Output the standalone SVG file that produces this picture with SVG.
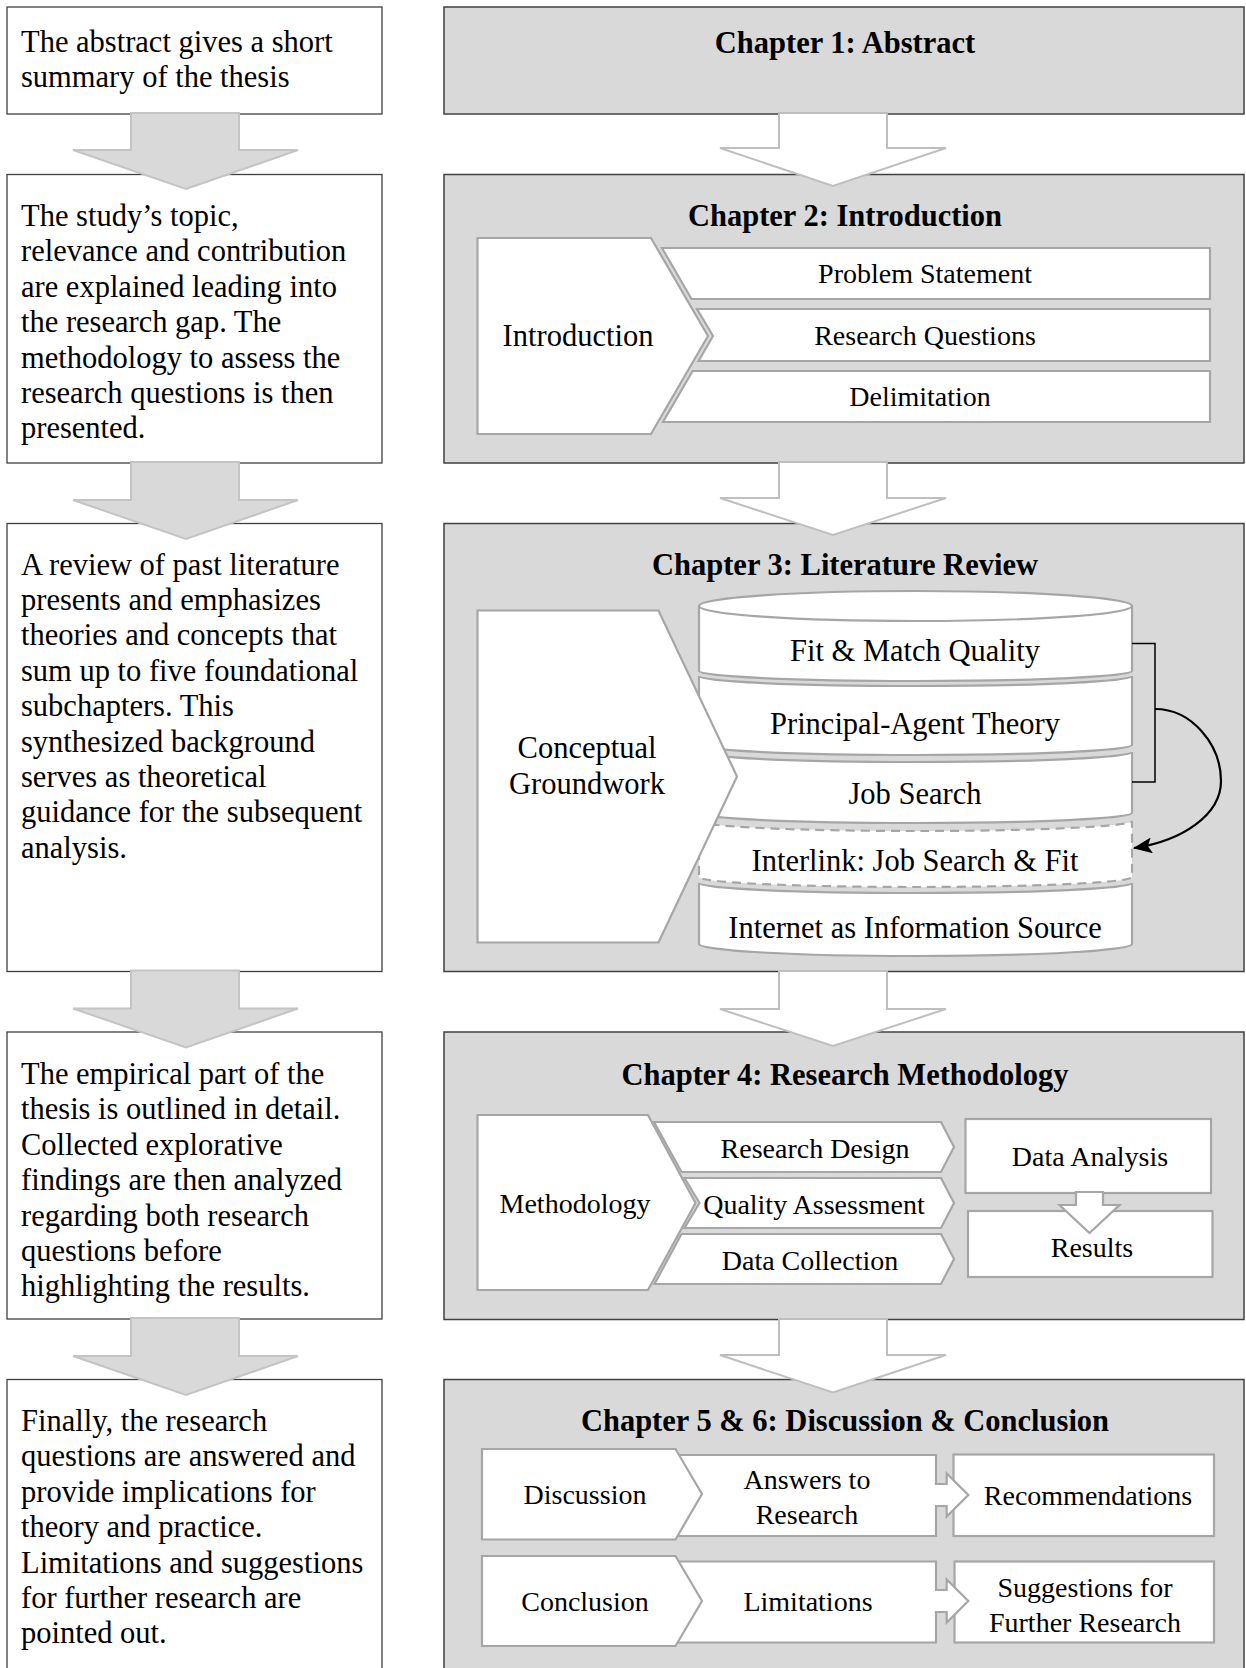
<svg xmlns="http://www.w3.org/2000/svg" width="1246" height="1668" viewBox="0 0 1246 1668">
<style>
.bg{fill:#ffffff}
.lbox{fill:#ffffff;stroke:#404040;stroke-width:1.3}
.cbox{fill:#d9d9d9;stroke:#404040;stroke-width:1.5}
.inner{fill:#ffffff;stroke:#a6a6a6;stroke-width:2.2;stroke-linejoin:miter}
.dash{fill:#ffffff;stroke:#a6a6a6;stroke-width:2.2;stroke-dasharray:9 6}
.larrow{fill:#d9d9d9;stroke:#c4c4c4;stroke-width:2}
.rarrow{fill:#ffffff;stroke:#bfbfbf;stroke-width:2}
.link{fill:none;stroke:#000000;stroke-width:1.5}
.curve{fill:none;stroke:#000000;stroke-width:2.2}
.body{font-family:"Liberation Serif","Times New Roman",serif;font-size:30.5px;fill:#000}
.title{font-family:"Liberation Serif","Times New Roman",serif;font-size:30.5px;font-weight:bold;fill:#000;text-anchor:middle}
.lab{font-family:"Liberation Serif","Times New Roman",serif;font-size:28px;fill:#000;text-anchor:middle}
.lab30{font-family:"Liberation Serif","Times New Roman",serif;font-size:30.5px;fill:#000;text-anchor:middle}
</style>
<defs>
<marker id="ah" markerUnits="userSpaceOnUse" markerWidth="19" markerHeight="16" viewBox="0 0 19 16" refX="18" refY="8" orient="auto">
<path d="M0,0 L19,8 L0,16 L4,8 Z" fill="#000"/>
</marker>
</defs>
<rect class="bg" x="0" y="0" width="1246" height="1668"/>

<!-- Left column description boxes -->
<g id="desc1">
<rect class="lbox" x="7" y="7" width="375" height="107"/>
<text class="body" x="21" y="52">The abstract gives a short<tspan x="21" dy="35.4">summary of the thesis</tspan></text>
</g>
<g id="desc2">
<rect class="lbox" x="7" y="174.5" width="375" height="288.5"/>
<text class="body" x="21" y="226">The study’s topic,<tspan x="21" dy="35.4">relevance and contribution</tspan><tspan x="21" dy="35.4">are explained leading into</tspan><tspan x="21" dy="35.4">the research gap. The</tspan><tspan x="21" dy="35.4">methodology to assess the</tspan><tspan x="21" dy="35.4">research questions is then</tspan><tspan x="21" dy="35.4">presented.</tspan></text>
</g>
<g id="desc3">
<rect class="lbox" x="7" y="523.5" width="375" height="448"/>
<text class="body" x="21" y="574.5">A review of past literature<tspan x="21" dy="35.4">presents and emphasizes</tspan><tspan x="21" dy="35.4">theories and concepts that</tspan><tspan x="21" dy="35.4">sum up to five foundational</tspan><tspan x="21" dy="35.4">subchapters. This</tspan><tspan x="21" dy="35.4">synthesized background</tspan><tspan x="21" dy="35.4">serves as theoretical</tspan><tspan x="21" dy="35.4">guidance for the subsequent</tspan><tspan x="21" dy="35.4">analysis.</tspan></text>
</g>
<g id="desc4">
<rect class="lbox" x="7" y="1032" width="375" height="287"/>
<text class="body" x="21" y="1084">The empirical part of the<tspan x="21" dy="35.4">thesis is outlined in detail.</tspan><tspan x="21" dy="35.4">Collected explorative</tspan><tspan x="21" dy="35.4">findings are then analyzed</tspan><tspan x="21" dy="35.4">regarding both research</tspan><tspan x="21" dy="35.4">questions before</tspan><tspan x="21" dy="35.4">highlighting the results.</tspan></text>
</g>
<g id="desc5">
<rect class="lbox" x="7" y="1379.5" width="375" height="300"/>
<text class="body" x="21" y="1431">Finally, the research<tspan x="21" dy="35.4">questions are answered and</tspan><tspan x="21" dy="35.4">provide implications for</tspan><tspan x="21" dy="35.4">theory and practice.</tspan><tspan x="21" dy="35.4">Limitations and suggestions</tspan><tspan x="21" dy="35.4">for further research are</tspan><tspan x="21" dy="35.4">pointed out.</tspan></text>
</g>

<!-- Chapter 1 -->
<g id="ch1">
<rect class="cbox" x="444" y="7" width="800" height="107"/>
<text class="title" x="845" y="53">Chapter 1: Abstract</text>
</g>

<!-- Chapter 2 -->
<g id="ch2">
<rect class="cbox" x="444" y="174.5" width="800" height="288.5"/>
<text class="title" x="845" y="226">Chapter 2: Introduction</text>
<g id="ch2-problem">
<polygon class="inner" points="662,248 1210,248 1210,299 691.5,299"/>
<text class="lab" x="925" y="283">Problem Statement</text>
</g>
<g id="ch2-questions">
<polygon class="inner" points="697,309 1210,309 1210,361 698.5,361 713,336"/>
<text class="lab" x="925" y="345">Research Questions</text>
</g>
<g id="ch2-delimitation">
<polygon class="inner" points="692.6,371 1210,371 1210,422 663,422"/>
<text class="lab" x="920" y="406">Delimitation</text>
</g>
<g id="ch2-intro">
<polygon class="inner" points="477.5,238 651,238 708,336 651,434 477.5,434"/>
<text class="lab30" x="578" y="346">Introduction</text>
</g>
</g>

<!-- Chapter 3 -->
<g id="ch3">
<rect class="cbox" x="444" y="523.5" width="800" height="448"/>
<text class="title" x="845" y="575">Chapter 3: Literature Review</text>
<g id="ch3-fit">
<path class="inner" d="M699,606 L699,671 A216.5,10 0 0 0 1132,671 L1132,606 A216.5,15 0 0 0 699,606 Z"/>
<path class="inner" fill="none" d="M699,606 A216.5,15 0 0 0 1132,606"/>
<text class="lab30" x="915" y="661">Fit &amp; Match Quality</text>
</g>
<g id="ch3-principal">
<path class="inner" d="M699,676 L699,745 A216.5,10 0 0 0 1132,745 L1132,676 A216.5,10 0 0 1 699,676 Z"/>
<text class="lab30" x="915" y="733.5">Principal-Agent Theory</text>
</g>
<g id="ch3-jobsearch">
<path class="inner" d="M699,752 L699,813 A216.5,10 0 0 0 1132,813 L1132,752 A216.5,10 0 0 1 699,752 Z"/>
<text class="lab30" x="915" y="804">Job Search</text>
</g>
<g id="ch3-interlink">
<path class="dash" d="M699,821 L699,877 A216.5,10 0 0 0 1132,877 L1132,821 A216.5,10 0 0 1 699,821 Z"/>
<text class="lab30" x="915" y="871">Interlink: Job Search &amp; Fit</text>
</g>
<g id="ch3-internet">
<path class="inner" d="M699,883 L699,944 A216.5,12 0 0 0 1132,944 L1132,883 A216.5,10 0 0 1 699,883 Z"/>
<text class="lab30" x="915" y="938">Internet as Information Source</text>
</g>
<g id="ch3-groundwork">
<polygon class="inner" points="477.5,610.5 658.5,610.5 737,776.5 658.5,942.5 477.5,942.5"/>
<text class="lab30" x="587" y="758">Conceptual<tspan x="587" dy="36">Groundwork</tspan></text>
</g>
</g>

<!-- Chapter 4 -->
<g id="ch4">
<rect class="cbox" x="444" y="1032" width="800" height="287.5"/>
<text class="title" x="845" y="1085">Chapter 4: Research Methodology</text>
<g id="ch4-design">
<polygon class="inner" points="654,1122 941,1122 954,1147 941,1172 681.5,1172"/>
<text class="lab" x="815" y="1158">Research Design</text>
</g>
<g id="ch4-quality">
<polygon class="inner" points="684.5,1178 941,1178 954,1203 941,1228 684.5,1228 699.5,1203"/>
<text class="lab" x="814" y="1214">Quality Assessment</text>
</g>
<g id="ch4-collection">
<polygon class="inner" points="681.5,1234 941,1234 954,1259 941,1284 654.5,1284"/>
<text class="lab" x="810" y="1270">Data Collection</text>
</g>
<g id="ch4-methodology">
<polygon class="inner" points="477.5,1115 648,1115 695.5,1203 648,1290 477.5,1290"/>
<text class="lab" x="575" y="1213">Methodology</text>
</g>
<g id="ch4-analysis">
<rect class="inner" x="965.5" y="1119" width="245.5" height="74"/>
<text class="lab" x="1090" y="1166">Data Analysis</text>
</g>
<g id="ch4-results">
<rect class="inner" x="968" y="1211" width="244.5" height="66"/>
<text class="lab" x="1092" y="1257">Results</text>
</g>
</g>

<!-- Chapter 5 & 6 -->
<g id="ch5">
<rect class="cbox" x="444" y="1379.5" width="800" height="300"/>
<text class="title" x="845" y="1431">Chapter 5 &amp; 6: Discussion &amp; Conclusion</text>
<g id="ch5-recommendations">
<rect class="inner" x="953.5" y="1454.5" width="260.5" height="81.5"/>
<text class="lab" x="1088" y="1505">Recommendations</text>
</g>
<g id="ch5-answers">
<polygon class="inner" points="660,1455 936,1455 936,1484 946.7,1484 946.7,1473.5 968.3,1495 946.7,1516.5 946.7,1506 936,1506 936,1536 660,1536"/>
<text class="lab" x="807" y="1489">Answers to<tspan x="807" dy="35">Research</tspan></text>
</g>
<g id="ch5-discussion">
<polygon class="inner" points="482,1449 675.5,1449 702,1494 675.5,1539.5 482,1539.5"/>
<text class="lab" x="585" y="1504">Discussion</text>
</g>
<g id="ch5-suggestions">
<rect class="inner" x="954.5" y="1561.5" width="259.5" height="81"/>
<text class="lab" x="1085" y="1597">Suggestions for<tspan x="1085" dy="35">Further Research</tspan></text>
</g>
<g id="ch5-limitations">
<polygon class="inner" points="660,1561.5 936,1561.5 936,1590 946.7,1590 946.7,1579.5 968.3,1601 946.7,1622.5 946.7,1612 936,1612 936,1642.5 660,1642.5"/>
<text class="lab" x="808" y="1611">Limitations</text>
</g>
<g id="ch5-conclusion">
<polygon class="inner" points="482,1556 675.5,1556 702,1601 675.5,1646 482,1646"/>
<text class="lab" x="585" y="1611">Conclusion</text>
</g>
</g>

<!-- Connectors -->
<g id="connectors">
<polygon class="larrow" points="131,113 239,113 239,150 298,150 186,189 73,150 131,150"/>
<polygon class="larrow" points="131,462 239,462 239,500 298,500 186,539 73,500 131,500"/>
<polygon class="larrow" points="131,970.5 239,970.5 239,1008.5 298,1008.5 186,1047.5 73,1008.5 131,1008.5"/>
<polygon class="larrow" points="131,1318 239,1318 239,1356 298,1356 186,1395 73,1356 131,1356"/>
<polygon class="rarrow" points="779,113 887,113 887,148 946,148 833,186 720,148 779,148"/>
<polygon class="rarrow" points="779,462 887,462 887,498 946,498 833,535 720,498 779,498"/>
<polygon class="rarrow" points="779,971 887,971 887,1009 946,1009 833,1046 720,1009 779,1009"/>
<polygon class="rarrow" points="779,1319 887,1319 887,1355 946,1355 833,1392.5 720,1355 779,1355"/>
<polygon class="inner" points="1076,1192 1103,1192 1103,1205 1119.5,1205 1089.5,1233 1059.5,1205 1076,1205"/>
<path class="link" d="M1132,643.5 L1155,643.5 L1155,782 L1132,782"/>
<path class="curve" marker-end="url(#ah)" d="M1155,709 C1192,709 1221,745 1221,781 C1221,815 1182,841 1134,848"/>
</g>
</svg>
